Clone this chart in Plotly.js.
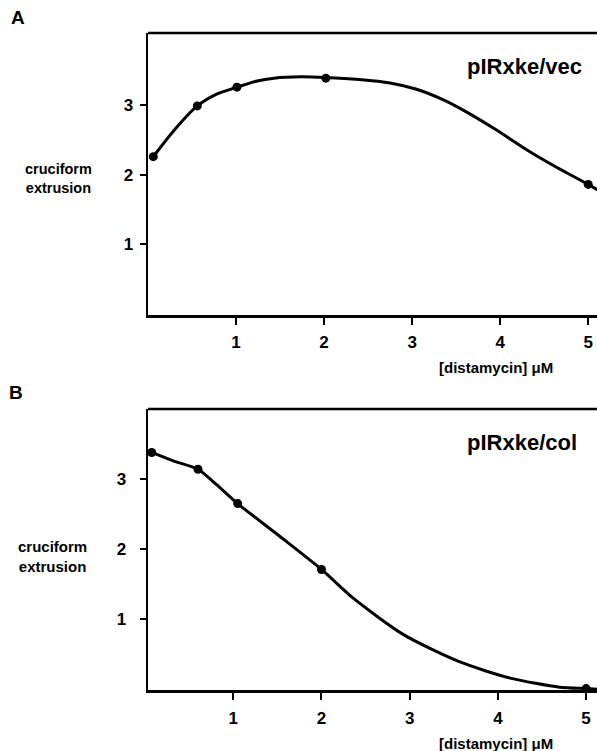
<!DOCTYPE html>
<html>
<head>
<meta charset="utf-8">
<script src="https://cdn.plot.ly/plotly-3.0.1.min.js"></script>
<style>html,body{margin:0;padding:0;background:#fff;}#chart{width:597px;height:751px;}</style>
</head>
<body>
<div id="chart"></div>
<script>
// ---- Data ----
// Panel A: pIRxke/vec
const pointsA_x = [0.06, 0.56, 1.01, 2.02, 5.0];
const pointsA_y = [2.26, 2.99, 3.26, 3.39, 1.86];
const curveA_x = [0.06, 0.29, 0.56, 0.78, 1.01, 1.24, 1.43, 1.73, 2.02, 2.4, 2.75, 3.05, 3.35, 3.65, 3.95, 4.30, 4.65, 5.0, 5.12];
const curveA_y = [2.26, 2.63, 2.99, 3.16, 3.26, 3.35, 3.39, 3.41, 3.40, 3.37, 3.32, 3.23, 3.08, 2.88, 2.65, 2.36, 2.10, 1.86, 1.77];
// Panel B: pIRxke/col
const pointsB_x = [0.075, 0.60, 1.05, 2.0, 5.0];
const pointsB_y = [3.38, 3.14, 2.65, 1.71, 0.01];
const curveB_x = [0.075, 0.32, 0.60, 0.81, 1.05, 1.53, 2.0, 2.36, 2.93, 3.57, 4.14, 4.70, 5.0, 5.15];
const curveB_y = [3.38, 3.26, 3.14, 2.92, 2.65, 2.18, 1.71, 1.30, 0.78, 0.39, 0.16, 0.03, 0.01, 0.0];

const xTicks = [1, 2, 3, 4, 5];
const xTickText = ['1', '2', '3', '4', '5'];
const yTicks = [1, 2, 3];
const yTickText = ['1', '2', '3'];

const panelLabels = ['A', 'B'];
const seriesNames = ['pIRxke/vec', 'pIRxke/col'];
const yTitle = 'cruciform<br>extrusion';
const xTitle = '[distamycin] \u03bcM';

// ---- Build ----
const W = 597, H = 751;
const FONT = 'Liberation Sans, Arial, Helvetica, sans-serif';
const px = v => v / W;
const py = v => 1 - v / H;

const lineStyle = {color: '#000', width: 3, shape: 'spline', smoothing: 0.7};
const markerStyle = {color: '#000', size: 9};

const traces = [
  {x: curveA_x, y: curveA_y, mode: 'lines', line: lineStyle, xaxis: 'x', yaxis: 'y', hoverinfo: 'skip'},
  {x: pointsA_x, y: pointsA_y, mode: 'markers', marker: markerStyle, xaxis: 'x', yaxis: 'y', cliponaxis: false},
  {x: curveB_x, y: curveB_y, mode: 'lines', line: lineStyle, xaxis: 'x2', yaxis: 'y2', hoverinfo: 'skip'},
  {x: pointsB_x, y: pointsB_y, mode: 'markers', marker: markerStyle, xaxis: 'x2', yaxis: 'y2', cliponaxis: false}
];

const tickFont = {family: FONT, size: 17, color: '#000', weight: 'bold'};
function xAxis(domain, range, anchor, standoff) {
  return {domain: domain, range: range, anchor: anchor, showgrid: false, zeroline: false,
    showline: true, linecolor: '#000', linewidth: 2.5, ticks: 'outside', ticklen: 7, tickwidth: 2,
    tickcolor: '#000', tickvals: xTicks, ticktext: xTickText, tickfont: tickFont,
    ticklabelstandoff: standoff, fixedrange: true};
}
function yAxis(domain, range, anchor, standoff) {
  return {domain: domain, range: range, anchor: anchor, showgrid: false, zeroline: false,
    showline: true, linecolor: '#000', linewidth: 2.5, ticks: 'outside', ticklen: 6, tickwidth: 2,
    tickcolor: '#000', tickvals: yTicks, ticktext: yTickText, tickfont: tickFont,
    ticklabelstandoff: standoff, fixedrange: true};
}

const layout = {
  width: W, height: H,
  margin: {l: 0, r: 0, t: 0, b: 0, pad: 0},
  paper_bgcolor: '#fff', plot_bgcolor: '#fff',
  showlegend: false,
  xaxis: xAxis([px(148), 1], [0, 5.1], 'y', 3),
  yaxis: yAxis([py(315), py(33)], [-0.02, 4.04], 'x', 3),
  xaxis2: xAxis([px(148), 1], [0.033, 5.124], 'y2', 4),
  yaxis2: yAxis([py(690), py(409)], [-0.01, 4.0], 'x2', 10),
  shapes: [
    {type: 'line', xref: 'x domain', yref: 'y domain', x0: 0, x1: 1, y0: 1, y1: 1, line: {color: '#000', width: 2.5}},
    {type: 'line', xref: 'x2 domain', yref: 'y2 domain', x0: 0, x1: 1, y0: 1, y1: 1, line: {color: '#000', width: 2.5}}
  ],
  annotations: [
    {text: panelLabels[0], xref: 'paper', yref: 'paper', x: px(18), y: py(18), xanchor: 'center', yanchor: 'middle', showarrow: false, font: {family: FONT, size: 19, weight: 'bold', color: '#000'}},
    {text: panelLabels[1], xref: 'paper', yref: 'paper', x: px(16), y: py(392), xanchor: 'center', yanchor: 'middle', showarrow: false, font: {family: FONT, size: 19, weight: 'bold', color: '#000'}},
    {text: seriesNames[0], xref: 'paper', yref: 'paper', x: px(524), y: py(67), xanchor: 'center', yanchor: 'middle', showarrow: false, font: {family: FONT, size: 22, weight: 'bold', color: '#000'}},
    {text: seriesNames[1], xref: 'paper', yref: 'paper', x: px(522), y: py(442), xanchor: 'center', yanchor: 'middle', showarrow: false, font: {family: FONT, size: 22, weight: 'bold', color: '#000'}},
    {text: yTitle, xref: 'paper', yref: 'paper', x: px(58), y: py(178), xanchor: 'center', yanchor: 'middle', align: 'center', showarrow: false, font: {family: FONT, size: 14.5, weight: 'bold', color: '#000'}},
    {text: yTitle, xref: 'paper', yref: 'paper', x: px(52), y: py(556), xanchor: 'center', yanchor: 'middle', align: 'center', showarrow: false, font: {family: FONT, size: 15, weight: 'bold', color: '#000'}},
    {text: xTitle, xref: 'paper', yref: 'paper', x: px(496), y: py(367), xanchor: 'center', yanchor: 'middle', showarrow: false, font: {family: FONT, size: 15, weight: 'bold', color: '#000'}},
    {text: xTitle, xref: 'paper', yref: 'paper', x: px(496), y: py(743), xanchor: 'center', yanchor: 'middle', showarrow: false, font: {family: FONT, size: 15, weight: 'bold', color: '#000'}}
  ]
};

Plotly.newPlot('chart', traces, layout, {staticPlot: true, displayModeBar: false});
</script>
</body>
</html>
